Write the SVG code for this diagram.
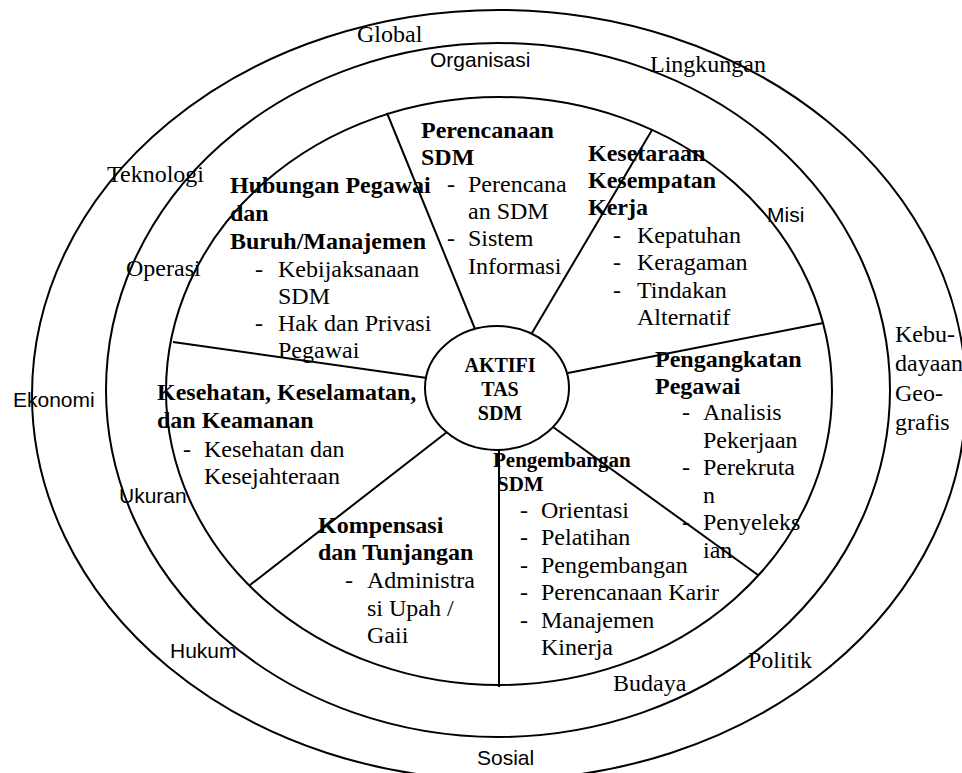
<svg xmlns="http://www.w3.org/2000/svg" width="962" height="773" viewBox="0 0 962 773">
<style>
.ln{fill:none;stroke:#000;stroke-width:2}
.t{font-family:"Liberation Serif","Times New Roman",serif;font-size:24px;fill:#000}
.b{font-family:"Liberation Serif","Times New Roman",serif;font-size:24px;font-weight:bold;fill:#000}
.bs{font-family:"Liberation Serif","Times New Roman",serif;font-size:21px;font-weight:bold;fill:#000}
.bc{font-family:"Liberation Serif","Times New Roman",serif;font-size:20px;font-weight:bold;fill:#000;text-anchor:middle}
.s{font-family:"Liberation Sans",Arial,sans-serif;font-size:21px;fill:#000}
</style>
<rect width="962" height="773" fill="#fff"/>
<g id="rings">
<ellipse class="ln" cx="499" cy="395" rx="467" ry="385"/>
<ellipse class="ln" cx="498" cy="390" rx="392" ry="347"/>
<ellipse class="ln" cx="499" cy="391" rx="333" ry="294"/>
</g>
<g id="connectors">
<line class="ln" x1="387" y1="113" x2="475" y2="329"/>
<line class="ln" x1="652" y1="130" x2="532" y2="333"/>
<line class="ln" x1="568" y1="373" x2="823" y2="323"/>
<line class="ln" x1="553" y1="427" x2="758" y2="575"/>
<line class="ln" x1="499" y1="450" x2="499" y2="687"/>
<line class="ln" x1="447" y1="432" x2="250" y2="585"/>
<line class="ln" x1="173" y1="342" x2="427" y2="378"/>
</g>
<g id="env-labels">
<text class="t" x="357" y="42">Global</text>
<text class="s" x="430" y="67">Organisasi</text>
<text class="t" x="650" y="72">Lingkungan</text>
<text class="t" x="107" y="182">Teknologi</text>
<text class="t" x="126" y="276">Operasi</text>
<text class="s" x="767" y="222">Misi</text>
<text class="t" x="895" y="342">Kebu-</text>
<text class="t" x="895" y="371">dayaan</text>
<text class="t" x="895" y="401">Geo-</text>
<text class="t" x="895" y="430">grafis</text>
<text class="s" x="13" y="407">Ekonomi</text>
<text class="s" x="119" y="503">Ukuran</text>
<text class="s" x="170" y="658">Hukum</text>
<text class="s" x="477" y="765">Sosial</text>
<text class="t" x="748" y="668">Politik</text>
<text class="t" x="613" y="691">Budaya</text>
</g>
<g id="center">
<ellipse class="ln" cx="497" cy="388" rx="72" ry="62" fill="#fff"/>
<text class="bc" x="500" y="372">AKTIFI</text>
<text class="bc" x="500" y="396">TAS</text>
<text class="bc" x="500" y="420">SDM</text>
</g>
<g id="perencanaan">
<text class="b" x="421" y="138">Perencanaan</text>
<text class="b" x="421" y="165">SDM</text>
<text class="t" x="447" y="192">-</text>
<text class="t" x="468" y="192">Perencana</text>
<text class="t" x="468" y="219">an SDM</text>
<text class="t" x="447" y="246">-</text>
<text class="t" x="468" y="246">Sistem</text>
<text class="t" x="468" y="274">Informasi</text>
</g>
<g id="hubungan">
<text class="b" x="230" y="193">Hubungan Pegawai</text>
<text class="b" x="230" y="221">dan</text>
<text class="b" x="230" y="249">Buruh/Manajemen</text>
<text class="t" x="255" y="277">-</text>
<text class="t" x="278" y="277">Kebijaksanaan</text>
<text class="t" x="278" y="304">SDM</text>
<text class="t" x="255" y="331">-</text>
<text class="t" x="278" y="331">Hak dan Privasi</text>
<text class="t" x="278" y="358">Pegawai</text>
</g>
<g id="kesetaraan">
<text class="b" x="588" y="161">Kesetaraan</text>
<text class="b" x="588" y="188">Kesempatan</text>
<text class="b" x="588" y="215">Kerja</text>
<text class="t" x="613" y="243">-</text>
<text class="t" x="637" y="243">Kepatuhan</text>
<text class="t" x="613" y="270">-</text>
<text class="t" x="637" y="270">Keragaman</text>
<text class="t" x="613" y="298">-</text>
<text class="t" x="637" y="298">Tindakan</text>
<text class="t" x="637" y="325">Alternatif</text>
</g>
<g id="pengangkatan">
<text class="b" x="655" y="367">Pengangkatan</text>
<text class="b" x="655" y="394">Pegawai</text>
<text class="t" x="682" y="420">-</text>
<text class="t" x="703" y="420">Analisis</text>
<text class="t" x="703" y="448">Pekerjaan</text>
<text class="t" x="682" y="475">-</text>
<text class="t" x="703" y="475">Perekruta</text>
<text class="t" x="703" y="503">n</text>
<text class="t" x="682" y="530">-</text>
<text class="t" x="703" y="530">Penyeleks</text>
<text class="t" x="703" y="558">ian</text>
</g>
<g id="pengembangan">
<text class="bs" x="493" y="467">Pengembangan</text>
<text class="bs" x="497" y="491">SDM</text>
<text class="t" x="520" y="518">-</text>
<text class="t" x="541" y="518">Orientasi</text>
<text class="t" x="520" y="545">-</text>
<text class="t" x="541" y="545">Pelatihan</text>
<text class="t" x="520" y="573">-</text>
<text class="t" x="541" y="573">Pengembangan</text>
<text class="t" x="520" y="600">-</text>
<text class="t" x="541" y="600">Perencanaan Karir</text>
<text class="t" x="520" y="628">-</text>
<text class="t" x="541" y="628">Manajemen</text>
<text class="t" x="541" y="655">Kinerja</text>
</g>
<g id="kesehatan">
<text class="b" x="157" y="400">Kesehatan, Keselamatan,</text>
<text class="b" x="157" y="428">dan Keamanan</text>
<text class="t" x="183" y="457">-</text>
<text class="t" x="204" y="457">Kesehatan dan</text>
<text class="t" x="204" y="484">Kesejahteraan</text>
</g>
<g id="kompensasi">
<text class="b" x="318" y="533">Kompensasi</text>
<text class="b" x="318" y="560">dan Tunjangan</text>
<text class="t" x="345" y="588">-</text>
<text class="t" x="367" y="588">Administra</text>
<text class="t" x="367" y="616">si Upah /</text>
<text class="t" x="367" y="643">Gaii</text>
</g>
</svg>
